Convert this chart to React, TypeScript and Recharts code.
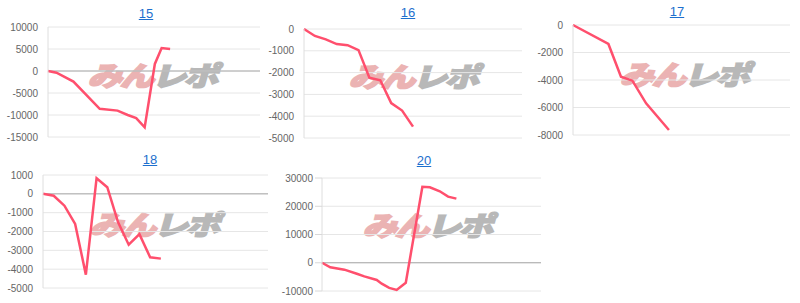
import React from "react";
import { LineChart, Line, XAxis, YAxis, CartesianGrid, ReferenceLine } from "recharts";

const titles = ["15", "16", "17", "18", "20"];

const x15 = [0, 1, 3, 6.1, 8.2, 9.4, 10.4, 11.4, 12.6, 13.4, 14.4];
const y15 = [0, -400, -2400, -8600, -9000, -10000, -10700, -12800, 1600, 5200, 5000];
const ticks15 = [-15000, -10000, -5000, 0, 5000, 10000];

const x16 = [0, 1, 2, 3, 4, 5, 6, 7, 8, 9, 10];
const y16 = [0, -320, -475, -690, -740, -970, -2230, -2350, -3400, -3740, -4480];
const ticks16 = [-5000, -4000, -3000, -2000, -1000, 0];

const x17 = [0, 3.1, 4.2, 5.2, 6.4, 8.4];
const y17 = [0, -1380, -3760, -4050, -5700, -7640];
const ticks17 = [-8000, -6000, -4000, -2000, 0];

const x18 = [0, 1, 2, 3, 4, 5, 6, 7, 8, 9, 10, 11];
const y18 = [0, -100, -630, -1600, -4290, 830, 350, -1500, -2700, -2140, -3370, -3440];
const ticks18 = [-5000, -4000, -3000, -2000, -1000, 0, 1000];

const x20 = [0, 1, 2.7, 4.2, 5.1, 6.6, 7.2, 8.1, 9.0, 10.1, 12.1, 13.0, 14.2, 15.2, 16.2];
const y20 = [0, -1600, -2450, -3900, -4840, -6100, -7400, -8900, -9600, -7100, 26900, 26700, 25300, 23400, 22700];
const ticks20 = [-10000, 0, 10000, 20000, 30000];

const toRows = (xs: number[], ys: number[]) => xs.map((x, i) => ({ x, v: ys[i] }));

type Cfg = {
  title: string;
  rows: { x: number; v: number }[];
  ticks: number[];
  xMax: number;
  pl: number; pr: number; pt: number; pb: number;
  titleX: number; titleY: number;
  wmX: number; wmY: number;
  tickLine?: boolean;
  baseline?: boolean;
};

const charts: Cfg[] = [
  { title: titles[0], rows: toRows(x15, y15), ticks: ticks15, xMax: 25, pl: 48, pr: 260, pt: 27, pb: 137, titleX: 146, titleY: 14, wmX: 95, wmY: 61, baseline: true },
  { title: titles[1], rows: toRows(x16, y16), ticks: ticks16, xMax: 20, pl: 304, pr: 522, pt: 29, pb: 138, titleX: 408, titleY: 13, wmX: 356, wmY: 62 },
  { title: titles[2], rows: toRows(x17, y17), ticks: ticks17, xMax: 19, pl: 573, pr: 790, pt: 25, pb: 135, titleX: 677, titleY: 12, wmX: 627, wmY: 60 },
  { title: titles[3], rows: toRows(x18, y18), ticks: ticks18, xMax: 21, pl: 43, pr: 268, pt: 175, pb: 288, titleX: 150, titleY: 160, wmX: 97, wmY: 210, baseline: true },
  { title: titles[4], rows: toRows(x20, y20), ticks: ticks20, xMax: 26.4, pl: 322, pr: 541, pt: 178, pb: 291, titleX: 424, titleY: 161, wmX: 370, wmY: 211, tickLine: true, baseline: true },
];

const AXW = 48;
const MT = 10;

function Watermark({ x, y }: { x: number; y: number }) {
  return (
    <div
      style={{
        position: "absolute",
        left: x,
        top: y,
        whiteSpace: "nowrap",
        fontFamily: "'Noto Sans CJK JP', sans-serif",
        fontWeight: 900,
        fontSize: 27,
        lineHeight: "27px",
        transform: "skewX(-16deg) scaleX(1.28)",
        transformOrigin: "left top",
        letterSpacing: -2,
      }}
    >
      <span style={{ color: "#ebb3b3", WebkitTextStroke: "1.6px #ebb3b3" }}>みん</span>
      <span style={{ color: "#b8b8b8", WebkitTextStroke: "1.6px #b8b8b8" }}>レポ</span>
    </div>
  );
}

function SmallChart({ c }: { c: Cfg }) {
  const w = c.pr - c.pl + AXW + 6;
  const h = c.pb - c.pt + MT * 2;
  return (
    <div style={{ position: "absolute", left: c.pl - AXW, top: c.pt - MT }}>
      <LineChart width={w} height={h} data={c.rows} margin={{ top: MT, right: 6, bottom: MT, left: 0 }}>
        <CartesianGrid horizontal vertical={false} stroke="#e6e6e6" />
        <XAxis type="number" dataKey="x" domain={[0, c.xMax]} hide />
        <YAxis
          width={AXW}
          type="number"
          domain={[c.ticks[0], c.ticks[c.ticks.length - 1]]}
          ticks={c.ticks}
          interval={0}
          axisLine={{ stroke: "#dedede" }}
          tickLine={c.tickLine ? { stroke: "#d8d8d8" } : false}
          tickSize={7}
          tickMargin={c.tickLine ? 2 : 3}
          tick={{ fontSize: 10, fill: "#666", fontFamily: "Arial, 'Liberation Sans', sans-serif" }}
        />
        {c.baseline ? <ReferenceLine y={0} stroke="#aaaaaa" strokeWidth={1} /> : null}
        <Line
          type="linear"
          dataKey="v"
          stroke="#ff4f6d"
          strokeWidth={2.5}
          dot={false}
          isAnimationActive={false}
        />
      </LineChart>
    </div>
  );
}

export default function App() {
  return (
    <div
      style={{
        position: "absolute",
        left: 0,
        top: 0,
        width: 800,
        height: 303,
        background: "#fff",
        overflow: "hidden",
        fontFamily: "Arial, 'Liberation Sans', sans-serif",
      }}
    >
      {charts.map((c) => (
        <Watermark key={"w" + c.title} x={c.wmX} y={c.wmY} />
      ))}
      {charts.map((c) => (
        <SmallChart key={"c" + c.title} c={c} />
      ))}
      {charts.map((c) => (
        <div
          key={"t" + c.title}
          style={{
            position: "absolute",
            left: c.titleX - 30,
            width: 60,
            top: c.titleY - 8,
            textAlign: "center",
            fontSize: 13,
            lineHeight: "16px",
            color: "#1d6fce",
            textDecoration: "underline",
          }}
        >
          {c.title}
        </div>
      ))}
    </div>
  );
}
